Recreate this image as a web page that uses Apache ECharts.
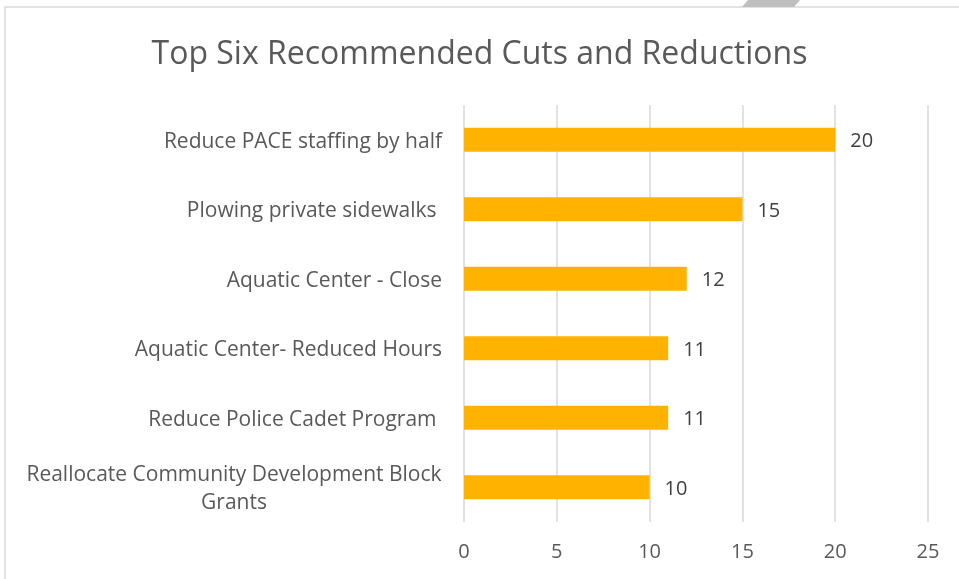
<!DOCTYPE html>
<html><head><meta charset="utf-8">
<script src="https://cdn.jsdelivr.net/npm/echarts@6/dist/echarts.min.js"></script>
<style>html,body{margin:0;padding:0;background:#fff}#c{width:959px;height:579px}</style>
</head><body><div id="c"></div>
<script>
var titleText = 'Top Six Recommended Cuts and Reductions';
var categories = ['Reallocate Community Development Block Grants', 'Reduce Police Cadet Program ', 'Aquatic Center- Reduced Hours', 'Aquatic Center - Close', 'Plowing private sidewalks ', 'Reduce PACE staffing by half'];
var values = [10, 11, 11, 12, 15, 20];
var xTicks = [0, 5, 10, 15, 20, 25];

var FONT = 'Open Sans';
var chart = echarts.init(document.getElementById('c'));
chart.setOption({
  backgroundColor: '#fff',
  animation: false,
  textStyle: {fontFamily: FONT},
  title: {
    text: titleText, left: 'center', top: 34,
    textStyle: {fontFamily: FONT, fontSize: 32, fontWeight: 'normal', color: '#595959'}
  },
  graphic: [
    {type: 'rect', shape: {x: 5, y: 7, width: 1000, height: 700}, style: {fill: 'none', stroke: '#d9d9d9', lineWidth: 1.5}},
    {type: 'polygon', shape: {points: [[742, 7], [748, 0], [800, 0], [794, 7]]}, style: {fill: '#bfbfbf'}}
  ],
  grid: {left: 464, right: 31, top: 105, bottom: 57, containLabel: false},
  xAxis: {
    type: 'value', min: xTicks[0], max: xTicks[xTicks.length - 1], interval: 5,
    axisLine: {show: false}, axisTick: {show: false},
    splitLine: {show: true, lineStyle: {color: '#d9d9d9', width: 1.5}},
    axisLabel: {fontFamily: FONT, fontSize: 20, color: '#595959', margin: 20}
  },
  yAxis: {
    type: 'category', data: categories,
    axisLine: {show: false}, axisTick: {show: false},
    axisLabel: {
      fontFamily: FONT, fontSize: 21, color: '#595959', margin: 22, padding: [4, 0, 0, 0],
      formatter: function (v) {
        if (v.indexOf('Block Grants') >= 0) {
          return '{w|Reallocate Community Development Block}\n{w|Grants}';
        }
        return v;
      },
      rich: {w: {fontFamily: FONT, fontSize: 21, color: '#595959', width: 416, align: 'center', lineHeight: 28}}
    }
  },
  series: [{
    type: 'bar', data: values, barWidth: 24,
    itemStyle: {color: '#FFB300'},
    label: {show: true, position: 'right', distance: 15, offset: [0, 2], fontFamily: FONT, fontSize: 20, color: '#404040'}
  }]
});
</script></body></html>
